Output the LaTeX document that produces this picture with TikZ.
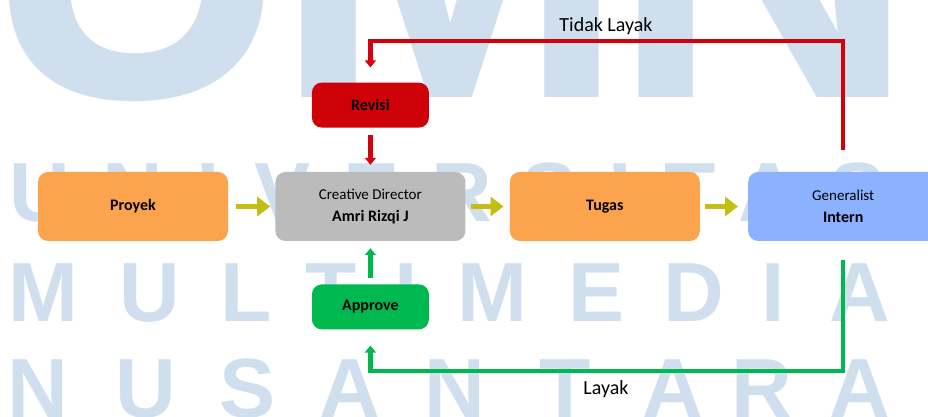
\documentclass[tikz,border=0pt]{standalone}
\usepackage{fontspec}
\setmainfont{Carlito}
\newfontfamily\wmfont{Liberation Sans}
\usepackage{tikz}
\usetikzlibrary{positioning}
\usetikzlibrary{arrows.meta}

\definecolor{orangebox}{RGB}{252,163,77}
\definecolor{graybox}{RGB}{187,187,187}
\definecolor{bluebox}{RGB}{139,177,255}
\definecolor{redbox}{RGB}{206,0,8}
\definecolor{redline}{RGB}{212,0,12}
\definecolor{greenbox}{RGB}{0,184,80}
\definecolor{olivearrow}{RGB}{196,190,20}
\definecolor{watermark}{RGB}{207,223,238}

\newcommand{\boldname}[1]{{\bfseries\fontsize{16}{22}\selectfont #1}}

\tikzset{
	box/.style = {rectangle, rounded corners=10pt, minimum width=190pt,
		minimum height=69pt, inner sep=0pt, align=center,
		font=\fontsize{15}{22}\selectfont},
	smallbox/.style = {box, minimum width=117pt, minimum height=45pt},
	wmletter/.style = {anchor=base, inner sep=0pt, text=watermark,
		font=\wmfont\bfseries\fontsize{84}{84}\selectfont},
	bigletter/.style = {wmletter, font=\wmfont\bfseries\fontsize{425}{425}\selectfont},
	flowarrow/.style = {draw=olivearrow, line width=5pt,
		-{Triangle[length=13pt 0, width=19pt 0, fill=olivearrow, color=olivearrow]}},
	redflow/.style = {draw=redline, line width=4.5pt,
		-{Triangle[length=7pt 0, width=11pt 0]}},
	greenflow/.style = {draw=greenbox, line width=4.5pt,
		-{Triangle[length=7pt 0, width=11pt 0]}},
	lbl/.style = {inner sep=0pt, font=\fontsize{20}{24}\selectfont}
}

\begin{document}
\begin{tikzpicture}[x=1pt, y=1pt]
	\useasboundingbox (0,0) rectangle (928,417);
	\clip (0,0) rectangle (928,417);

	% watermark
	\node (bigU) [bigletter] at (137,319) {U};
	\node (bigM) [bigletter] at (451,319) {M};
	\node (bigN) [bigletter] at (764,319) {N};
	\foreach \x/\ch [count=\i] in {40/U,133/N,208/I,283/V,372/E,462/R,550/S,620/I,690/T,769/A,858/S}
		\node (univ\i) [wmletter] at (\x,195) {\ch};
	\foreach \x/\ch [count=\i] in {43/M,150/U,246/L,331/T,406/I,492/M,597/E,694/D,773/I,860/A}
		\node (multi\i) [wmletter] at (\x,95) {\ch};
	\foreach \x/\ch [count=\i] in {38/N,146/U,248/S,350/A,455/N,565/T,673/A,762/R,860/A}
		\node (nusa\i) [wmletter] at (\x,-1) {\ch};

	% alur kerja
	\node (proyek) [box, fill=orangebox] at (133,210.5) {\boldname{Proyek}};
	\node (cd) [box, fill=graybox, right = 47pt of proyek] {Creative Director\\\boldname{Amri Rizqi J}};
	\node (tugas) [box, fill=orangebox, right = 44pt of cd] {\boldname{Tugas}};
	\node (intern) [box, fill=bluebox, right = 48pt of tugas] {Generalist\\\boldname{Intern}};
	\node (revisi) [smallbox, fill=redbox, above = 44pt of cd] {\boldname{Revisi}};
	\node (approve) [smallbox, fill=greenbox, below = 43pt of cd] {\boldname{Approve}};

	\path [flowarrow]
	(proyek) edge[shorten <=8pt, shorten >=5pt] (cd)
	(cd) edge[shorten <=5pt, shorten >=6pt] (tugas)
	(tugas) edge[shorten <=5pt, shorten >=10pt] (intern);

	\draw [redflow, shorten <=22pt, shorten >=15pt] (intern.north) -- ++(0,131) -| (revisi.north);
	\draw [redflow, shorten <=7pt, shorten >=7pt] (revisi) -- (cd);
	\draw [greenflow, shorten <=19pt, shorten >=16pt] (intern.south) -- ++(0,-130) -| (approve.south);
	\draw [greenflow, shorten <=6pt, shorten >=7pt] (approve) -- (cd);

	\node (tidak) [lbl] at (606,391) {Tidak Layak};
	\node (layak) [lbl] at (606,28) {Layak};
\end{tikzpicture}
\end{document}
